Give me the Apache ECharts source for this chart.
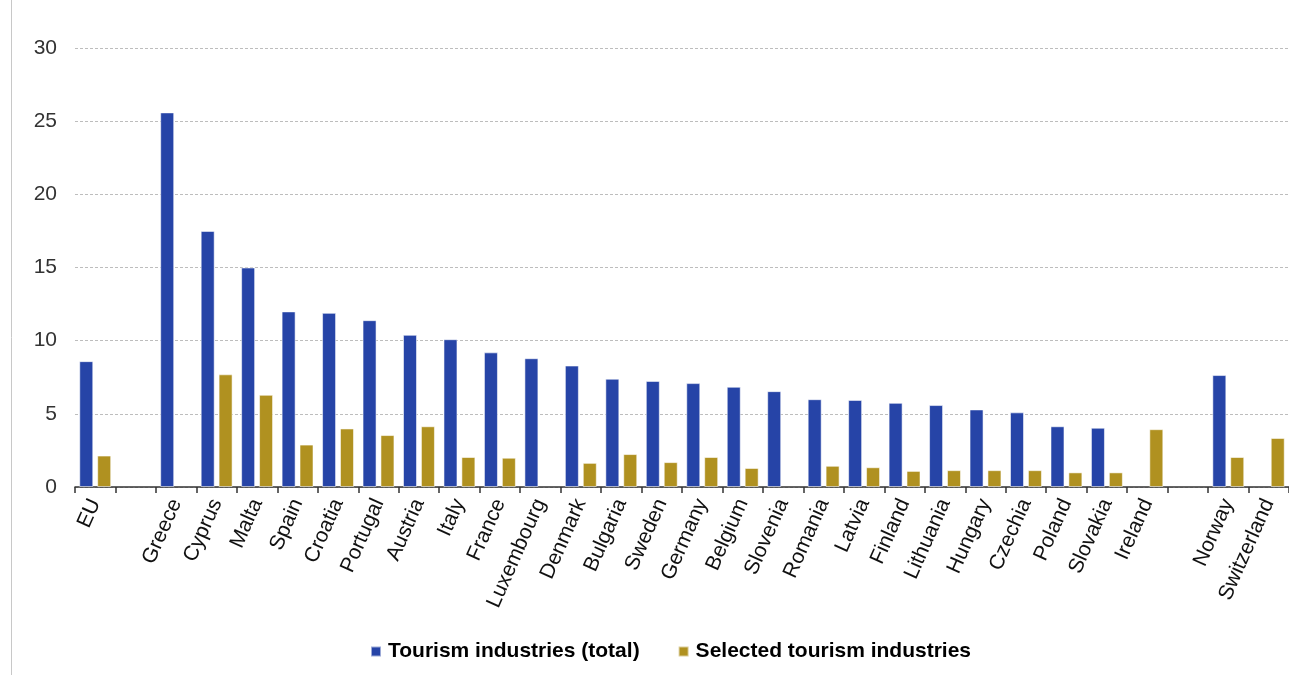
<!DOCTYPE html>
<html>
<head>
<meta charset="utf-8">
<script src="https://cdn.jsdelivr.net/npm/echarts@6/dist/echarts.min.js"></script>
<style>
  html, body { margin: 0; padding: 0; background: #fff; }
  #chart { width: 1289px; height: 675px; }
</style>
</head>
<body>
<div id="chart"></div>
<script>
// Country categories; empty strings are spacer slots between groups
const categories = [
  'EU', '', 'Greece', 'Cyprus', 'Malta', 'Spain', 'Croatia', 'Portugal', 'Austria',
  'Italy', 'France', 'Luxembourg', 'Denmark', 'Bulgaria', 'Sweden', 'Germany',
  'Belgium', 'Slovenia', 'Romania', 'Latvia', 'Finland', 'Lithuania', 'Hungary',
  'Czechia', 'Poland', 'Slovakia', 'Ireland', '', 'Norway', 'Switzerland'
];

// Share of tourism industries, %
const tourismTotal = [
  8.6, null, 25.6, 17.5, 15.0, 12.0, 11.9, 11.4, 10.4,
  10.1, 9.2, 8.8, 8.3, 7.4, 7.25, 7.1,
  6.85, 6.55, 6.0, 5.95, 5.75, 5.6, 5.3,
  5.1, 4.15, 4.05, null, null, 7.65, null
];

const tourismSelected = [
  2.15, null, null, 7.7, 6.3, 2.9, 4.0, 3.55, 4.15,
  2.05, 2.0, null, 1.65, 2.25, 1.7, 2.05,
  1.3, null, 1.45, 1.35, 1.1, 1.15, 1.15,
  1.15, 1.0, 1.0, 3.95, null, 2.05, 3.35
];

const seriesNames = ['Tourism industries (total)', 'Selected tourism industries'];
const yTicks = { min: 0, max: 30, interval: 5 };

const chart = echarts.init(document.getElementById('chart'), null, { renderer: 'canvas' });

const barStyle = color => ({
  color: color,
  borderColor: 'rgba(255,255,255,0.55)',
  borderWidth: 1
});

chart.setOption({
  animation: false,
  textStyle: { fontFamily: 'Liberation Sans, Arial, sans-serif' },
  grid: { left: 75, right: 0, top: 48, bottom: 188, containLabel: false },
  graphic: [{
    type: 'line',
    shape: { x1: 11.5, y1: 0, x2: 11.5, y2: 675 },
    style: { stroke: '#c8c8c8', lineWidth: 1 }
  }],
  legend: {
    top: 636,
    left: 365,
    itemWidth: 10,
    itemHeight: 10,
    itemGap: 38,
    icon: 'rect',
    textStyle: { fontSize: 21, fontWeight: 'bold', color: '#000', padding: [0, 0, 0, 2] },
    data: seriesNames
  },
  xAxis: {
    type: 'category',
    data: categories,
    axisLine: { lineStyle: { color: '#333', width: 1.5 } },
    axisTick: { show: true, length: 6, lineStyle: { color: '#333', width: 1.5 } },
    axisLabel: { interval: 0, rotate: 66, fontSize: 21, color: '#111', margin: 13 },
    splitLine: { show: false }
  },
  yAxis: {
    type: 'value',
    min: yTicks.min,
    max: yTicks.max,
    interval: yTicks.interval,
    axisLine: { show: false },
    axisTick: { show: false },
    axisLabel: { fontSize: 21, color: '#333', margin: 18 },
    splitLine: { lineStyle: { color: '#bdbdbd', type: [3, 2], width: 1 } }
  },
  series: [
    {
      name: seriesNames[0],
      type: 'bar',
      data: tourismTotal,
      itemStyle: barStyle('#2644A7'),
      barWidth: 14,
      barGap: '28%'
    },
    {
      name: seriesNames[1],
      type: 'bar',
      data: tourismSelected,
      itemStyle: barStyle('#B09120'),
      barWidth: 14,
      barGap: '28%'
    }
  ]
});
</script>
</body>
</html>
